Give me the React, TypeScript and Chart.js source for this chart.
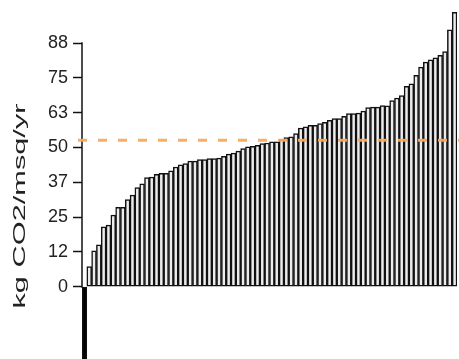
import React, { useEffect, useRef } from "react";
import { Chart, registerables } from "chart.js";

Chart.register(...registerables);

// Sorted building values (kg CO2 / msq / yr)
const VALUES: number[] = [
  -30, 7.2, 12.9, 15.0, 21.5, 22.1, 25.7, 28.5, 28.5, 31.3,
  32.9, 35.6, 36.9, 39.2, 39.4, 40.4, 40.7, 40.7, 41.6, 43.0,
  43.8, 44.2, 45.1, 45.1, 45.7, 45.7, 46.0, 46.0, 46.2, 46.8,
  47.6, 48.0, 48.7, 49.6, 50.2, 50.4, 50.8, 51.4, 51.6, 52.0,
  52.0, 52.8, 53.6, 53.8, 55.0, 57.0, 57.4, 58.0, 58.0, 58.6,
  59.0, 59.8, 60.4, 60.4, 61.2, 62.2, 62.2, 62.4, 63.1, 64.3,
  64.5, 64.5, 65.1, 65.0, 66.9, 67.8, 68.7, 72.0, 72.9, 75.9,
  78.9, 80.7, 81.5, 82.2, 83.1, 84.5, 92.3, 98.6,
];
const CATEGORIES: string[] = VALUES.map((_, i) => `B${i + 1}`);
const AVERAGE = 52.6;
const TICK_VALUES: number[] = [0, 12.5, 25, 37.5, 50, 62.5, 75, 87.5];
const TICK_LABELS: string[] = ["0", "12", "25", "37", "50", "63", "75", "88"];
const Y_TITLE = "kg CO2/msq/yr";
const Y_MIN = -26;
const Y_MAX = 103;

const FONT = '"Liberation Sans", Arial, sans-serif';

const overlayPlugin = {
  id: "overlay",
  afterDatasetsDraw(chart: any) {
    const { ctx, chartArea, scales } = chart;
    const y = scales.y;
    ctx.save();
    ctx.strokeStyle = "#111";
    ctx.lineWidth = 1.5;
    ctx.beginPath();
    ctx.moveTo(chartArea.left, y.getPixelForValue(0) + 1);
    ctx.lineTo(chartArea.left, y.getPixelForValue(TICK_VALUES[TICK_VALUES.length - 1]) - 1);
    ctx.stroke();
    const ay = y.getPixelForValue(AVERAGE);
    ctx.strokeStyle = "rgba(247,170,95,0.95)";
    ctx.lineWidth = 3;
    ctx.setLineDash([9, 11]);
    ctx.beginPath();
    ctx.moveTo(chartArea.left - 4, ay);
    ctx.lineTo(chartArea.right + 2, ay);
    ctx.stroke();
    ctx.restore();
  },
  afterDraw(chart: any) {
    const { ctx } = chart;
    ctx.save();
    ctx.translate(20, 206);
    ctx.rotate(-Math.PI / 2);
    ctx.font = `17px ${FONT}`;
    const w = ctx.measureText(Y_TITLE).width;
    ctx.scale(205 / w, 1);
    ctx.textAlign = "center";
    ctx.textBaseline = "middle";
    ctx.fillStyle = "#222";
    ctx.fillText(Y_TITLE, 0, 0);
    ctx.restore();
  },
};

export default function App() {
  const ref = useRef<HTMLCanvasElement>(null);
  useEffect(() => {
    document.body.style.margin = "0";
    if (!ref.current) return;
    const chart = new Chart(ref.current, {
      type: "bar",
      data: {
        labels: CATEGORIES,
        datasets: [
          {
            data: VALUES,
            backgroundColor: (c: any) => (c.raw < 0 ? "#000" : "#ececec"),
            borderColor: "#111",
            borderWidth: 1.5,
            borderSkipped: false,
            barPercentage: 1,
            categoryPercentage: 1,
          },
        ],
      },
      options: {
        responsive: false,
        animation: false,
        layout: { padding: { left: 0, right: 2, top: 0, bottom: 0 } },
        plugins: { legend: { display: false }, tooltip: { enabled: false } },
        scales: {
          x: { display: false },
          y: {
            min: Y_MIN,
            max: Y_MAX,
            afterBuildTicks: (s: any) => {
              s.ticks = TICK_VALUES.map((v) => ({ value: v }));
            },
            afterFit: (s: any) => {
              s.width = 82;
              s.paddingTop = 0;
              s.paddingBottom = 0;
            },
            border: { display: false },
            grid: {
              drawOnChartArea: false,
              drawTicks: true,
              tickLength: 9,
              tickWidth: 1.5,
              tickColor: "#111",
            },
            ticks: {
              padding: 5,
              color: "#222",
              font: { family: FONT, size: 18 },
              callback: (v: any) => {
                const i = TICK_VALUES.indexOf(Number(v));
                return i >= 0 ? TICK_LABELS[i] : "";
              },
            },
          },
        },
      },
      plugins: [overlayPlugin],
    });
    return () => chart.destroy();
  }, []);
  return <canvas ref={ref} width={459} height={359} style={{ display: "block" }} />;
}
